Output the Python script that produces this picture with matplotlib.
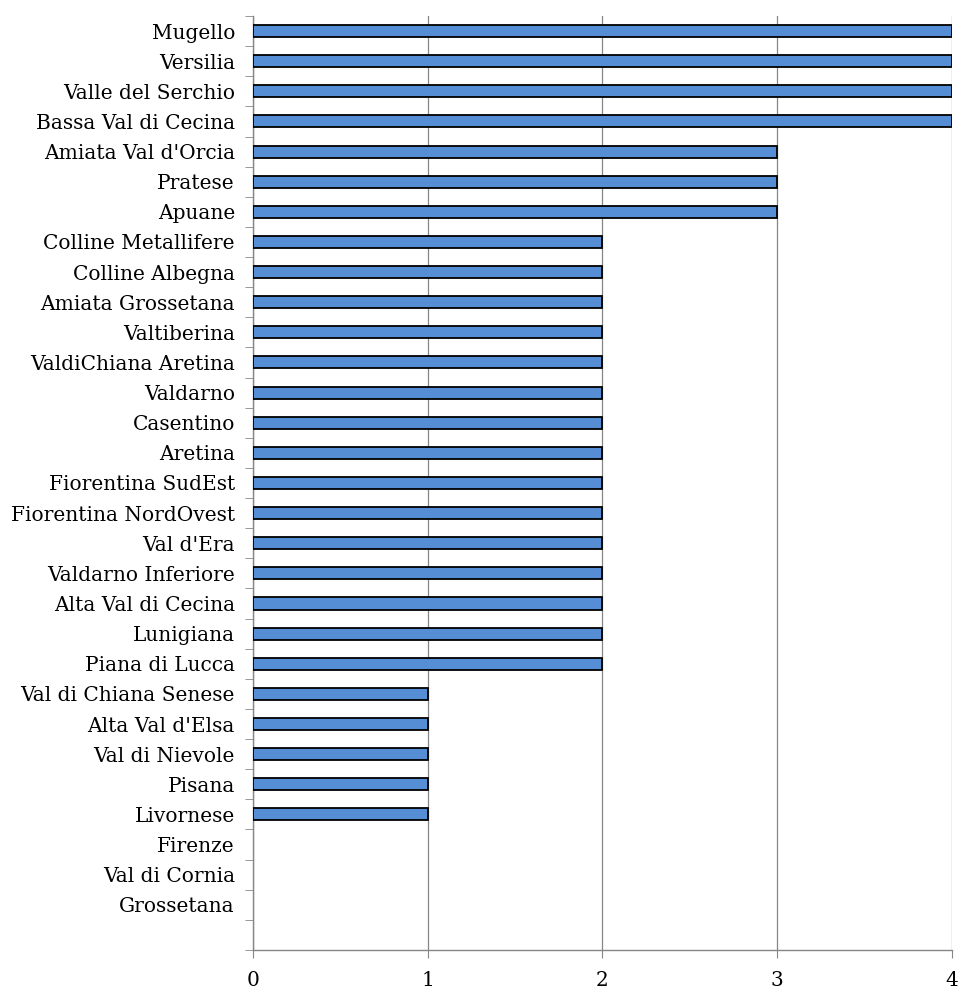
import matplotlib.pyplot as plt
import numpy as np

areas = [
    "Mugello", "Versilia", "Valle del Serchio", "Bassa Val di Cecina",
    "Amiata Val d'Orcia", "Pratese", "Apuane", "Colline Metallifere",
    "Colline Albegna", "Amiata Grossetana", "Valtiberina", "ValdiChiana Aretina",
    "Valdarno", "Casentino", "Aretina", "Fiorentina SudEst",
    "Fiorentina NordOvest", "Val d'Era", "Valdarno Inferiore", "Alta Val di Cecina",
    "Lunigiana", "Piana di Lucca", "Val di Chiana Senese", "Alta Val d'Elsa",
    "Val di Nievole", "Pisana", "Livornese", "Firenze", "Val di Cornia",
    "Grossetana", ""]
counts = [4, 4, 4, 4, 3, 3, 3, 2, 2, 2, 2, 2, 2, 2, 2, 2, 2, 2, 2, 2, 2, 2,
          1, 1, 1, 1, 1, 0, 0, 0, 0]

plt.rcParams['font.family'] = ['DejaVu Serif']
grey = "#868686"

fig = plt.figure(figsize=(9.6, 9.94), dpi=100)
ax = fig.add_axes([0.2635, 0.0443, 0.728, 0.9396])

y = np.arange(len(areas))
# zero-length bars get no outline, so they stay invisible
edges = [1.3 if c > 0 else 0 for c in counts]
ax.barh(y, counts, height=0.4, color="#558ED5", edgecolor="black", linewidth=edges, zorder=3)

ax.set_ylim(len(areas) - 0.5, -0.5)
ax.set_xlim(0, 4)
ax.set_xticks([0, 1, 2, 3, 4])
ax.set_yticks(y)
ax.set_yticklabels(areas)
ax.set_yticks(np.arange(len(areas) + 1) - 0.5, minor=True)
ax.tick_params(axis="y", which="major", length=0, labelsize=14.5, pad=13)
ax.tick_params(axis="y", which="minor", length=6, color=grey)
ax.tick_params(axis="x", length=6, color=grey, labelsize=14.5, pad=9.5)

ax.grid(axis="x", color=grey, linewidth=0.9, zorder=0)
for s in ["top", "right"]:
    ax.spines[s].set_visible(False)
for s in ["left", "bottom"]:
    ax.spines[s].set_color(grey)
    ax.spines[s].set_linewidth(1.0)

plt.savefig("out.png", dpi=100)
